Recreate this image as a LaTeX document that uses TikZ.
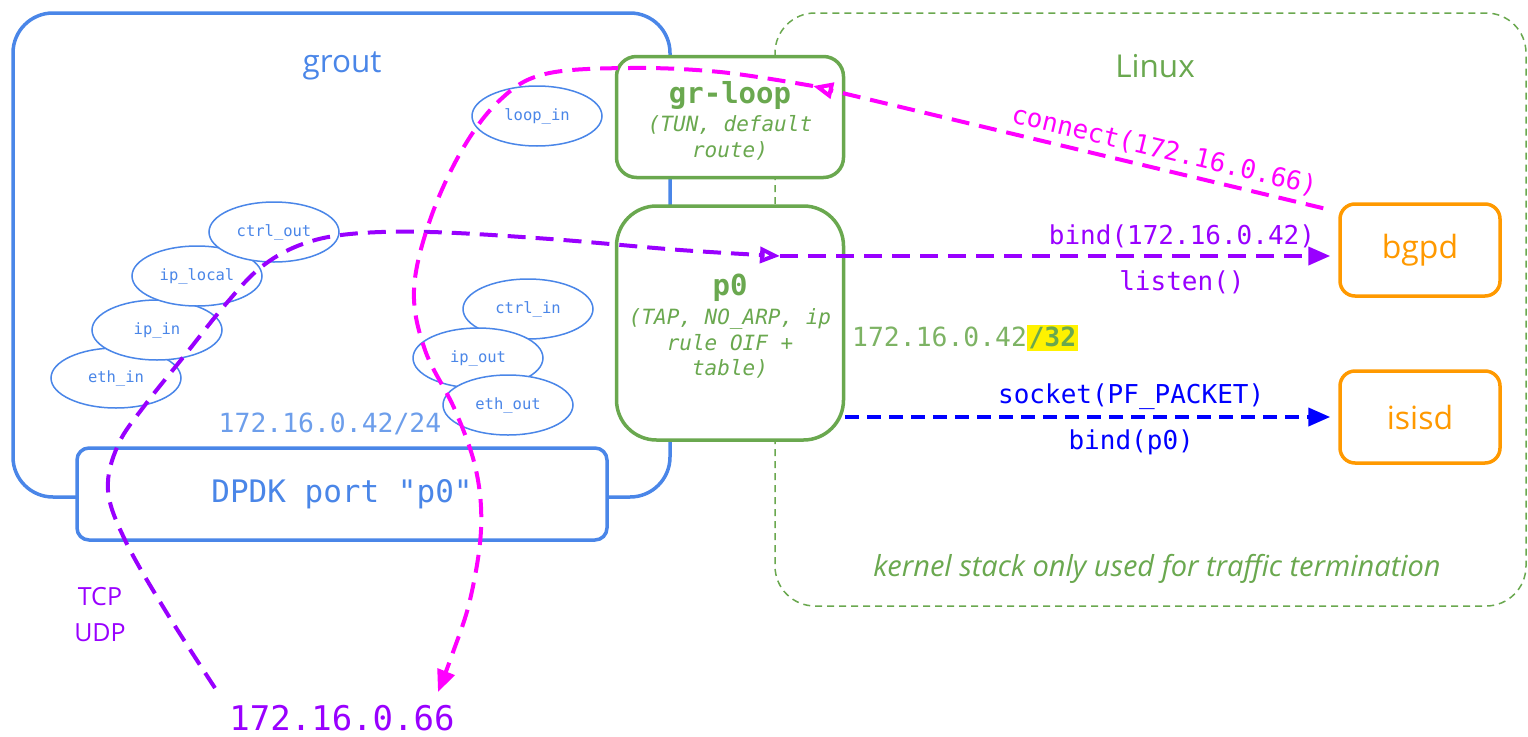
\documentclass[tikz,border=0pt]{standalone}
\usepackage{fontspec}
\setmainfont{Open Sans}
\setmonofont{DejaVu Sans Mono}
\usetikzlibrary{shapes.geometric, arrows.meta}

\definecolor{groutblue}{HTML}{4A86E8}
\definecolor{lightblue}{HTML}{6D9EEB}
\definecolor{linuxgreen}{HTML}{6AA84F}
\definecolor{lightgreen}{HTML}{7DB364}
\definecolor{daemonorange}{HTML}{FF9900}
\definecolor{tcppurple}{HTML}{9900FF}
\definecolor{loopmagenta}{HTML}{FF00FF}
\definecolor{rawblue}{HTML}{0000FF}

\begin{document}
\begin{tikzpicture}[x=1pt,y=-1pt,
	oval/.style={ellipse,draw=groutblue,line width=1.5pt,fill=white,minimum width=130pt,minimum height=60pt,inner sep=0pt,text=groutblue,font=\fontsize{15.5}{18}\selectfont\ttfamily},
	ifbox/.style={draw=linuxgreen,line width=3.5pt,fill=white,text=linuxgreen,align=center,minimum width=227pt,inner sep=0pt,font=\fontsize{21}{25.5}\selectfont\ttfamily\itshape},
	daemon/.style={draw=daemonorange,line width=3.5pt,rounded corners=15pt,minimum width=160pt,minimum height=92pt,text=daemonorange,font=\fontsize{32}{38}\selectfont},
	flow/.style={line width=4pt,dash pattern=on 18pt off 10pt},
	rawflow/.style={line width=4pt,dash pattern=on 14pt off 8pt,rawblue},
	calltext/.style={font=\fontsize{26}{30}\selectfont\ttfamily},
	bigtip/.style={-{Triangle[length=22pt,width=18pt]}},
	opentip/.style={-{Triangle[open,length=20pt,width=16pt]}}]
	\useasboundingbox (0,0) rectangle (1528,736);
	
	% grout and linux areas
	\draw[groutblue,line width=3.5pt,rounded corners=40pt] (13,13) rectangle (670,497);
	\node[text=groutblue,font=\fontsize{31.5}{36}\selectfont] (grout) at (342,66) {grout};
	\draw[linuxgreen,line width=1.5pt,dash pattern=on 7pt off 5pt,rounded corners=40pt] (775,13) rectangle (1526,606);
	\node[text=linuxgreen,font=\fontsize{31.5}{36}\selectfont] (linux) at (1155,66) {Linux};
	\node[text=linuxgreen,font=\fontsize{29}{34}\selectfont\itshape] (note) at (1157,569) {kernel stack only used for traffic termination};
	
	\node[draw=groutblue,line width=3.5pt,fill=white,rounded corners=12pt,minimum width=530pt,minimum height=92pt,text=groutblue,font=\fontsize{31}{36}\selectfont\ttfamily] (dpdk) at (342,494) {DPDK port "p0"};
	\node[text=lightblue,font=\fontsize{26.4}{30}\selectfont\ttfamily] (net24) at (330,424) {172.16.0.42/24};
	
	% graph nodes
	\node[oval] (loop_in) at (537,116) {loop\_in};
	\node[oval] (eth_in) at (116,378) {eth\_in};
	\node[oval] (ip_in) at (157,330) {ip\_in};
	\node[oval] (ip_local) at (197,276) {ip\_local};
	\node[oval] (ctrl_out) at (274,232) {ctrl\_out};
	\node[oval] (ctrl_in) at (528,309) {ctrl\_in};
	\node[oval] (ip_out) at (478,358) {ip\_out};
	\node[oval] (eth_out) at (508,405) {eth\_out};
	
	% kernel interfaces
	\node[ifbox,rounded corners=20pt,minimum height=121pt] (grloop) at (730,117) {\rule{0pt}{29pt}{\fontsize{29}{30}\selectfont\bfseries\upshape gr-loop}\\[3pt](TUN, default\\route)};
	\node[ifbox,rounded corners=40pt,minimum height=234pt] (p0) at (730,323) {\rule{0pt}{28pt}{\fontsize{29}{30}\selectfont\bfseries\upshape p0}\\[4pt](TAP, NO\_ARP, ip\\rule OIF +\\table)};
	\node[anchor=west,inner sep=0pt,font=\fontsize{26.4}{30}\selectfont\ttfamily] (net32) at (852,338) {\textcolor{lightgreen}{172.16.0.42}{\fboxsep=1.5pt\colorbox{yellow}{\textcolor{linuxgreen}{\bfseries/32}}}};
	
	% daemons
	\node[daemon] (bgpd) at (1420,250) {bgpd};
	\node[daemon] (isisd) at (1420,417) {isisd};
	
	\node[text=tcppurple,align=center,font=\fontsize{25}{36}\selectfont] (proto) at (100,615) {TCP\\UDP};
	\node[text=tcppurple,font=\fontsize{34}{40}\selectfont\ttfamily] (peer) at (342,718) {172.16.0.66};
	
	\coordinate (tcpsrc) at (215,688);
	\coordinate (p0in) at (780,256);
	\coordinate (loopin) at (813,86);
	\coordinate (peertip) at (438,692);
	
	% tcp/udp towards bgpd
	\draw[flow,tcppurple,opentip] plot[smooth,tension=0.6] coordinates {(tcpsrc) (165,610) (125,540) (108,490) (118,445) (145,405) (185,355) (225,305) (260,268) (300,245) (350,234) (430,232) (550,239) (680,250) (p0in)};
	\draw[flow,tcppurple,bigtip,shorten >=8pt] (p0in) -- (p0in -| bgpd.west)
		node[calltext,pos=0.72,above=3pt,text=tcppurple] {bind(172.16.0.42)}
		node[calltext,pos=0.72,below=9pt,text=tcppurple] {listen()};
	
	% raw packets to isisd
	\draw[rawflow,bigtip,shorten >=8pt] (p0.east |- isisd.west) -- (isisd.west)
		node[calltext,pos=0.58,above=2pt,text=rawblue] {socket(PF\_PACKET)}
		node[calltext,pos=0.58,below=7pt,text=rawblue] {bind(p0)};
	
	% bgpd connecting out through gr-loop
	\draw[flow,loopmagenta,opentip] ([shift={(-15,6)}]bgpd.north west) -- (loopin)
		node[calltext,pos=0.32,above=2pt,sloped,text=loopmagenta] {connect(172.16.0.66)};
	\draw[flow,loopmagenta,bigtip] plot[smooth,tension=0.6] coordinates {(loopin) (720,72) (630,68) (545,74) (500,100) (462,150) (430,220) (414,290) (425,350) (455,410) (476,470) (481,530) (470,600) (452,655) (peertip)};
\end{tikzpicture}
\end{document}
